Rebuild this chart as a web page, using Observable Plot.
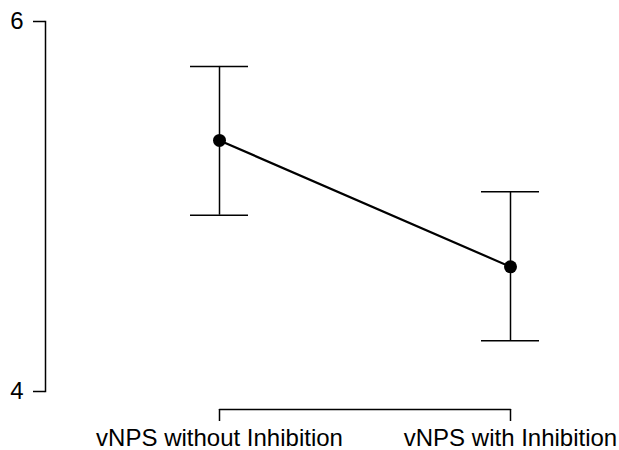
<!DOCTYPE html>
<html>
<head>
<meta charset="utf-8">
<script src="https://cdn.jsdelivr.net/npm/d3@7"></script>
<script src="https://cdn.jsdelivr.net/npm/@observablehq/plot@0.6"></script>
<style>
  html, body { margin: 0; padding: 0; background: #fff; }
</style>
</head>
<body>
<div id="chart"></div>
<script>
const categories = ["vNPS without Inhibition", "vNPS with Inhibition"];
const means = [5.357, 4.674];
const lower = [4.953, 4.275];
const upper = [5.757, 5.080];
const yTicks = [4, 6];

const data = categories.map((c, i) => ({cat: c, mean: means[i], lo: lower[i], hi: upper[i], base: yTicks[0]}));

const chart = Plot.plot({
  width: 619,
  height: 450,
  marginTop: 21,
  marginBottom: 59,
  marginLeft: 45,
  marginRight: 0,
  style: {fontFamily: "'Liberation Sans', Arial, sans-serif", fontSize: "24px", color: "#000", background: "#fff"},
  x: {type: "band", domain: categories, range: [73.5, 655.5], paddingInner: 0.8007, paddingOuter: 0.40035, align: 0.5},
  y: {domain: [4, 6]},
  marks: [
    Plot.frame({anchor: "left", stroke: "#000", strokeWidth: 1.5}),
    Plot.axisY({ticks: yTicks, tickSize: 12, tickPadding: 10, tickFormat: d => String(d), label: null, fontSize: 24, strokeWidth: 1.5}),
    Plot.axisX({tickSize: 12, tickPadding: 7, dy: 18, label: null, fontSize: 24, strokeWidth: 1.5}),
    Plot.line(data, {x: "cat", y: "base", dy: 18, stroke: "#000", strokeWidth: 1.5}),
    Plot.ruleX(data, {x: "cat", y1: "lo", y2: "hi", stroke: "#000", strokeWidth: 1.5}),
    Plot.tickY(data, {x: "cat", y: "hi", stroke: "#000", strokeWidth: 1.5}),
    Plot.tickY(data, {x: "cat", y: "lo", stroke: "#000", strokeWidth: 1.5}),
    Plot.line(data, {x: "cat", y: "mean", stroke: "#000", strokeWidth: 2.2}),
    Plot.dot(data, {x: "cat", y: "mean", r: 6.5, fill: "#000", stroke: "none"})
  ]
});
document.getElementById("chart").appendChild(chart);
</script>
</body>
</html>
